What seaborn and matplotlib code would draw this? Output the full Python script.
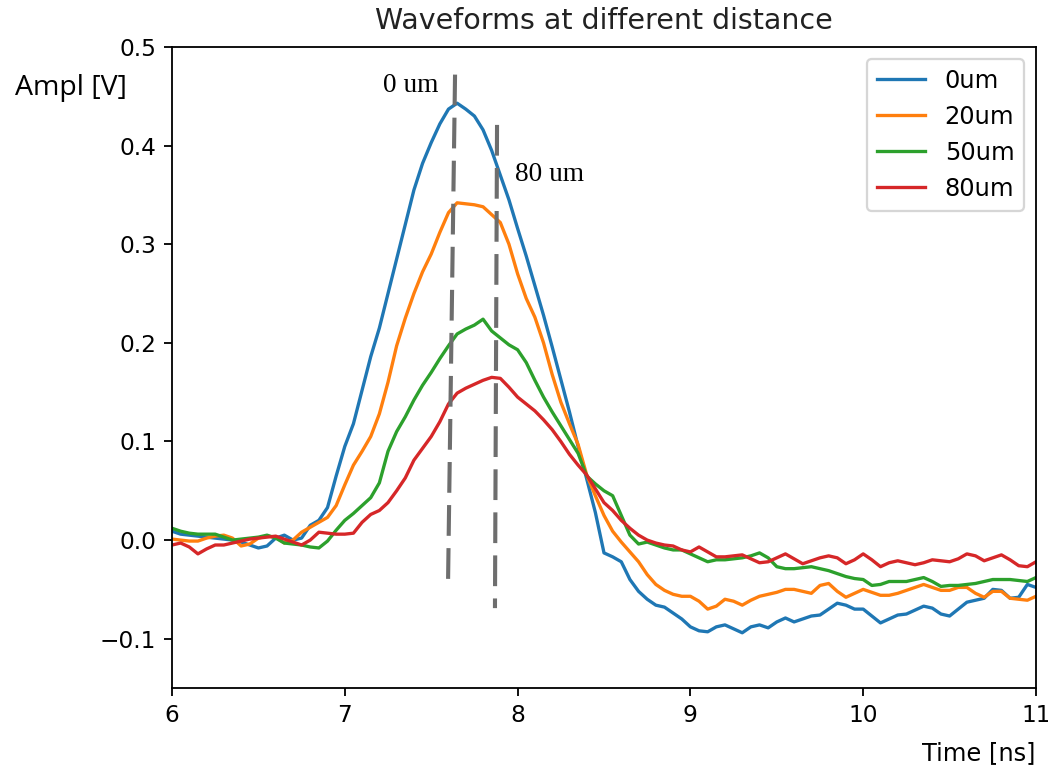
import numpy as np
import pandas as pd
import matplotlib
matplotlib.use("Agg")
import matplotlib.pyplot as plt
import seaborn as sns

# ---- data -------------------------------------------------------------
time_ns = np.round(np.linspace(6.0, 11.0, 101), 3)

amp_0um = [
    0.009, 0.006, 0.005, 0.004, 0.003, 0.002, 0.001, 0.000, -0.002, -0.005,
    -0.008, -0.006, 0.002, 0.005, 0.000, 0.002, 0.015, 0.020, 0.033, 0.065,
    0.095, 0.118, 0.152, 0.186, 0.215, 0.250, 0.285, 0.320, 0.355, 0.382,
    0.403, 0.422, 0.437, 0.443, 0.437, 0.430, 0.416, 0.395, 0.370, 0.345,
    0.316, 0.288, 0.258, 0.228, 0.196, 0.163, 0.130, 0.095, 0.062, 0.028,
    -0.013, -0.017, -0.022, -0.040, -0.052, -0.060, -0.066, -0.068, -0.074, -0.080,
    -0.088, -0.092, -0.093, -0.088, -0.086, -0.090, -0.094, -0.088, -0.086, -0.089,
    -0.083, -0.079, -0.083, -0.080, -0.077, -0.076, -0.070, -0.064, -0.066, -0.070,
    -0.070, -0.077, -0.084, -0.080, -0.076, -0.075, -0.071, -0.067, -0.069, -0.075,
    -0.077, -0.070, -0.063, -0.061, -0.059, -0.050, -0.051, -0.059, -0.058, -0.045,
    -0.048,
]
amp_20um = [
    0.001, 0.000, -0.001, -0.001, 0.002, 0.004, 0.005, 0.002, -0.006, -0.004,
    0.002, 0.004, 0.003, -0.003, 0.000, 0.008, 0.013, 0.018, 0.023, 0.035,
    0.056, 0.076, 0.090, 0.105, 0.128, 0.160, 0.197, 0.225, 0.250, 0.272,
    0.290, 0.312, 0.332, 0.342, 0.341, 0.340, 0.338, 0.330, 0.322, 0.300,
    0.270, 0.245, 0.226, 0.200, 0.168, 0.140, 0.118, 0.097, 0.066, 0.045,
    0.025, 0.009, -0.002, -0.012, -0.022, -0.035, -0.045, -0.051, -0.055, -0.057,
    -0.057, -0.062, -0.070, -0.067, -0.060, -0.062, -0.066, -0.061, -0.057, -0.055,
    -0.053, -0.050, -0.050, -0.052, -0.054, -0.046, -0.044, -0.052, -0.058, -0.054,
    -0.050, -0.053, -0.056, -0.056, -0.054, -0.051, -0.048, -0.045, -0.048, -0.051,
    -0.051, -0.048, -0.048, -0.054, -0.058, -0.052, -0.052, -0.059, -0.060, -0.061,
    -0.057,
]
amp_50um = [
    0.012, 0.009, 0.007, 0.006, 0.006, 0.006, 0.003, 0.000, 0.001, 0.002,
    0.003, 0.005, 0.002, -0.003, -0.004, -0.005, -0.007, -0.008, -0.001, 0.010,
    0.020, 0.027, 0.035, 0.043, 0.058, 0.090, 0.110, 0.125, 0.142, 0.157,
    0.170, 0.184, 0.197, 0.209, 0.214, 0.218, 0.224, 0.212, 0.205, 0.198,
    0.193, 0.180, 0.162, 0.145, 0.130, 0.116, 0.102, 0.088, 0.065, 0.057,
    0.050, 0.045, 0.025, 0.005, -0.004, -0.002, -0.005, -0.008, -0.010, -0.010,
    -0.014, -0.018, -0.022, -0.020, -0.020, -0.019, -0.018, -0.016, -0.013, -0.018,
    -0.027, -0.029, -0.029, -0.028, -0.027, -0.029, -0.031, -0.034, -0.037, -0.039,
    -0.040, -0.046, -0.045, -0.042, -0.042, -0.042, -0.040, -0.038, -0.042, -0.047,
    -0.046, -0.046, -0.045, -0.044, -0.042, -0.040, -0.040, -0.040, -0.041, -0.042,
    -0.038,
]
amp_80um = [
    -0.005, -0.003, -0.007, -0.014, -0.009, -0.005, -0.005, -0.003, -0.001, 0.001,
    0.002, 0.003, 0.004, 0.001, -0.002, -0.005, 0.000, 0.008, 0.007, 0.006,
    0.006, 0.007, 0.018, 0.026, 0.030, 0.038, 0.050, 0.063, 0.081, 0.093,
    0.105, 0.120, 0.138, 0.149, 0.154, 0.158, 0.162, 0.165, 0.164, 0.155,
    0.145, 0.138, 0.131, 0.122, 0.112, 0.100, 0.087, 0.076, 0.066, 0.052,
    0.038, 0.030, 0.020, 0.012, 0.005, 0.000, -0.003, -0.005, -0.006, -0.010,
    -0.012, -0.007, -0.012, -0.017, -0.017, -0.016, -0.015, -0.019, -0.023, -0.022,
    -0.018, -0.014, -0.019, -0.024, -0.021, -0.018, -0.016, -0.018, -0.024, -0.020,
    -0.014, -0.020, -0.027, -0.023, -0.021, -0.023, -0.025, -0.023, -0.020, -0.021,
    -0.022, -0.019, -0.014, -0.016, -0.021, -0.018, -0.015, -0.020, -0.026, -0.027,
    -0.022,
]

series_labels = ["0um", "20um", "50um", "80um"]
series_values = [amp_0um, amp_20um, amp_50um, amp_80um]

# peak-position guide lines (time at top, time at bottom, amplitude top, amplitude bottom)
guide_x_top = [7.638, 7.881]
guide_x_bottom = [7.597, 7.869]
guide_y_top = [0.472, 0.421]
guide_y_bottom = [-0.049, -0.069]
guide_labels = ["0 um", "80 um"]
guide_label_x = [7.222, 7.985]
guide_label_y = [0.461, 0.371]

x_ticks = [6, 7, 8, 9, 10, 11]
y_ticks = [-0.1, 0.0, 0.1, 0.2, 0.3, 0.4, 0.5]

# ---- long-form table --------------------------------------------------
frames = []
for lab, vals in zip(series_labels, series_values):
    frames.append(pd.DataFrame({"Time": time_ns, "Ampl": vals, "Distance": lab}))
df = pd.concat(frames, ignore_index=True)

# ---- figure -----------------------------------------------------------
DPI = 164
fig = plt.figure(figsize=(1048 / DPI, 766 / DPI), dpi=DPI)
ax = fig.add_axes([172 / 1048, 1 - 688 / 766, (1036 - 172) / 1048, (688 - 47) / 766])

palette = sns.color_palette("tab10", 4)
sns.lineplot(data=df, x="Time", y="Ampl", hue="Distance", hue_order=series_labels,
             palette=palette, linewidth=1.45, errorbar=None, ax=ax)

for xt, xb, yt, yb in zip(guide_x_top, guide_x_bottom, guide_y_top, guide_y_bottom):
    ax.plot([xt, xb], [yt, yb], color="#6e6e6e", linewidth=1.8,
            linestyle=(0, (7.5, 3.0)), zorder=3)

for lab, lx, ly in zip(guide_labels, guide_label_x, guide_label_y):
    ax.text(lx, ly, lab, fontsize=12, family="Liberation Serif", color="black",
            ha="left", va="center")

ax.set_xlim(6, 11)
ax.set_ylim(-0.15, 0.5)
ax.set_xticks(x_ticks)
ax.set_yticks(y_ticks)
ax.tick_params(labelsize=10.2)
ax.set_title("Waveforms at different distance", fontsize=12.5, pad=8, color="#222222")
ax.set_xlabel("Time [ns]", loc="right", fontsize=10.6, labelpad=6)
ax.set_ylabel("")

handles, labels = ax.get_legend_handles_labels()
ax.legend(handles, labels, loc="upper right", fontsize=10.6)

fig.text(15 / 1048, 1 - 88 / 766, "Ampl [V]", fontsize=12.5, family="Open Sans",
         ha="left", va="center", color="black")

fig.savefig("out.png", dpi=DPI)
